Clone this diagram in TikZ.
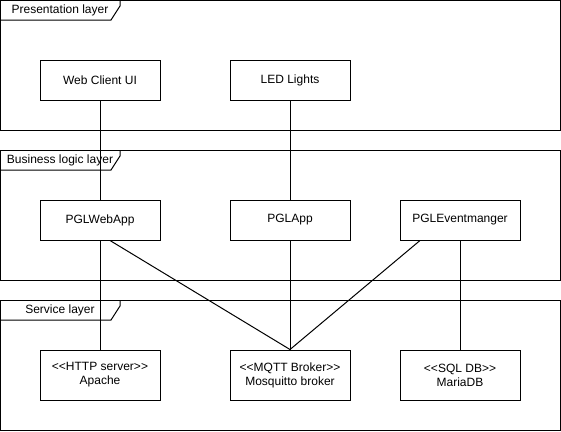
\documentclass[tikz,border=0pt]{standalone}
\usepackage{fontspec}
\setmainfont{Liberation Sans}
\begin{document}
\begin{tikzpicture}[x=1pt,y=-1pt,line width=1pt,
  box/.style={draw,fill=white,minimum width=120pt,minimum height=40pt,inner sep=0pt,align=center,font=\fontsize{12}{14}\selectfont},
  tall/.style={minimum height=50pt},
  frametab/.style={draw=none,font=\fontsize{12}{14}\selectfont,inner sep=0pt}]
\useasboundingbox (0,0) rectangle (561,431);
% layer frames
\foreach \y/\lab/\nm in {0/Presentation layer/pres,150/Business logic layer/bus,300/Service layer/serv}{
  \draw (0.5,\y+0.5) rectangle (560,\y+130);
  \draw (0.5,\y+20) -- (111,\y+20) -- (120,\y+6) -- (120,\y+0.5);
  \node[frametab] (\nm) at (60,\y+10) {\lab};
}
% nodes
\node[box] (web) at (100,80) {Web Client UI};
\node[box] (led) at (290,80) {LED Lights};
\node[box] (pglweb) at (100,220) {PGLWebApp};
\node[box] (pglapp) at (290,220) {PGLApp};
\node[box] (pglev) at (460,220) {PGLEventmanger};
\node[box,tall] (http) at (100,375) {<{}<HTTP server>{}>\\Apache};
\node[box,tall] (mqtt) at (290,375) {<{}<MQTT Broker>{}>\\Mosquitto broker};
\node[box,tall] (sql) at (460,375) {<{}<SQL DB>{}>\\MariaDB};
% connectors
\draw (web.south) -- (pglweb.north);
\draw (led.south) -- (pglapp.north);
\draw (pglweb.south) -- (http.north);
\draw (pglapp.south) -- (mqtt.north);
\draw (pglev.south) -- (sql.north);
\draw ([xshift=10pt]pglweb.south) -- (mqtt.north);
\draw ([xshift=-40pt]pglev.south) -- (mqtt.north);
\end{tikzpicture}
\end{document}
